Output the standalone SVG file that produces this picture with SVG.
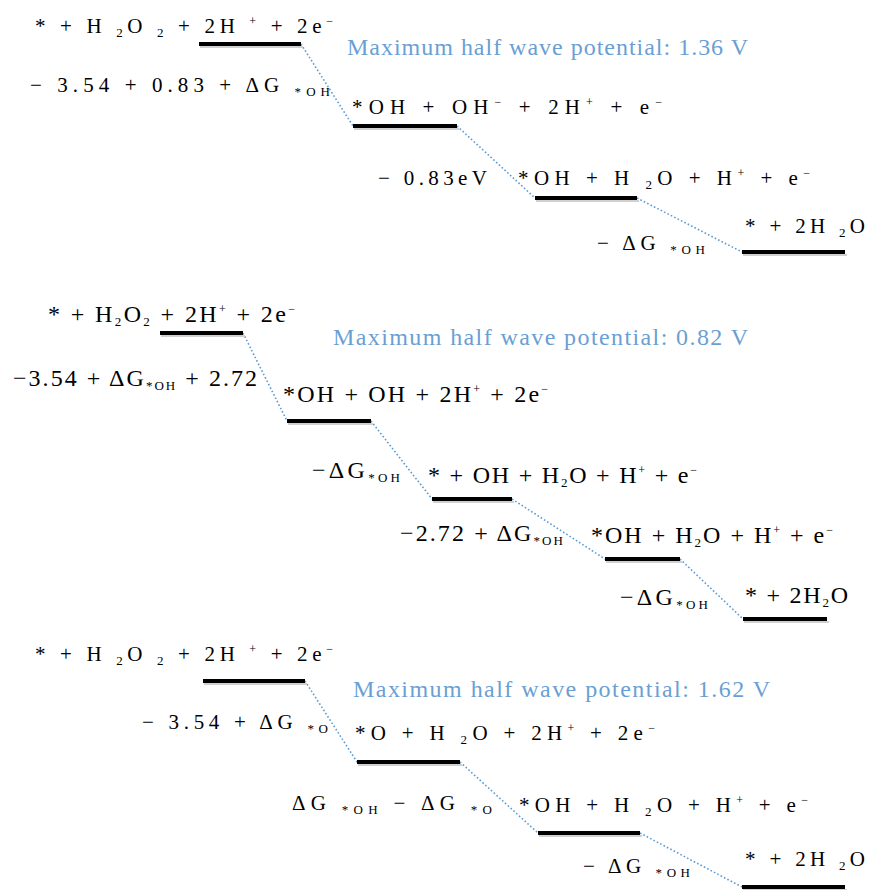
<svg xmlns="http://www.w3.org/2000/svg" width="875" height="890" viewBox="0 0 875 890">
<style>
.bg{fill:#ffffff}
.t{font-family:"Liberation Serif","Times New Roman",serif;font-size:21px;fill:#000}
.m{font-family:"Liberation Serif","Times New Roman",serif;font-size:24px;fill:#000}
.b{font-family:"Liberation Serif","Times New Roman",serif;font-size:24px;fill:#6a9fd4}
.sb{font-size:13px}
.sp{font-size:12px}
.lvl{stroke:#000;stroke-width:4;stroke-linecap:butt}
.sh{stroke:#d0d0d0;stroke-width:2}
.con{stroke:#5b9bd5;stroke-width:1.6;stroke-dasharray:1.6 2.2;fill:none}
</style>
<rect class="bg" x="0" y="0" width="875" height="890"/>

<g id="connectors">
<line class="con" x1="301" y1="44" x2="353" y2="126"/>
<line class="con" x1="457" y1="126" x2="535" y2="198"/>
<line class="con" x1="637" y1="198" x2="742" y2="252"/>
<line class="con" x1="243" y1="333" x2="287" y2="421"/>
<line class="con" x1="371" y1="421" x2="432" y2="499"/>
<line class="con" x1="512" y1="499" x2="605" y2="559"/>
<line class="con" x1="680" y1="559" x2="743" y2="619"/>
<line class="con" x1="305" y1="681" x2="357" y2="762"/>
<line class="con" x1="460" y1="762" x2="538" y2="833"/>
<line class="con" x1="640" y1="833" x2="742" y2="887"/>
</g>

<!-- Top panel -->
<g id="top-title"><text class="b" x="347" y="55" textLength="401" lengthAdjust="spacing">Maximum half wave potential: 1.36 V</text></g>
<g id="top-level1">
<line class="sh" x1="200" y1="47" x2="303" y2="47"/>
<line class="lvl" x1="199" y1="44" x2="301" y2="44"/>
<text class="t" x="35" y="33" textLength="298" lengthAdjust="spacing">* + H <tspan class="sb" dy="4">2</tspan><tspan dy="-4">O </tspan><tspan class="sb" dy="4">2</tspan><tspan dy="-4"> + 2H </tspan><tspan class="sp" dy="-8">+</tspan><tspan dy="8"> + 2e</tspan><tspan class="sp" dy="-8">−</tspan></text>
</g>
<g id="top-step1"><text class="t" x="30" y="92" textLength="300" lengthAdjust="spacing">− 3.54 + 0.83 + ΔG <tspan class="sb" dy="4">*OH</tspan></text></g>
<g id="top-level2">
<line class="sh" x1="354" y1="129" x2="459" y2="129"/>
<line class="lvl" x1="353" y1="126" x2="457" y2="126"/>
<text class="t" x="352" y="114" textLength="310" lengthAdjust="spacing">*OH + OH<tspan class="sp" dy="-8">−</tspan><tspan dy="8"> + 2H</tspan><tspan class="sp" dy="-8">+</tspan><tspan dy="8"> + e</tspan><tspan class="sp" dy="-8">−</tspan></text>
</g>
<g id="top-step2"><text class="t" x="378" y="185" textLength="109" lengthAdjust="spacing">− 0.83eV</text></g>
<g id="top-level3">
<line class="sh" x1="536" y1="201" x2="639" y2="201"/>
<line class="lvl" x1="535" y1="198" x2="637" y2="198"/>
<text class="t" x="518" y="185" textLength="292" lengthAdjust="spacing">*OH + H <tspan class="sb" dy="4">2</tspan><tspan dy="-4">O + H</tspan><tspan class="sp" dy="-8">+</tspan><tspan dy="8"> + e</tspan><tspan class="sp" dy="-8">−</tspan></text>
</g>
<g id="top-step3"><text class="t" x="597" y="250" textLength="108" lengthAdjust="spacing">− ΔG <tspan class="sb" dy="4">*OH</tspan></text></g>
<g id="top-level4">
<line class="sh" x1="743" y1="255" x2="847" y2="255"/>
<line class="lvl" x1="742" y1="252" x2="845" y2="252"/>
<text class="t" x="745" y="233" textLength="120" lengthAdjust="spacing">* + 2H <tspan class="sb" dy="4">2</tspan><tspan dy="-4">O</tspan></text>
</g>

<!-- Middle panel -->
<g id="mid-title"><text class="b" x="333" y="345" textLength="415" lengthAdjust="spacing">Maximum half wave potential: 0.82 V</text></g>
<g id="mid-level1">
<line class="sh" x1="161" y1="336" x2="245" y2="336"/>
<line class="lvl" x1="160" y1="333" x2="243" y2="333"/>
<text class="m" x="48" y="322" textLength="247" lengthAdjust="spacing">* + H<tspan class="sb" dy="4">2</tspan><tspan dy="-4">O</tspan><tspan class="sb" dy="4">2</tspan><tspan dy="-4"> + 2H</tspan><tspan class="sp" dy="-9">+</tspan><tspan dy="9"> + 2e</tspan><tspan class="sp" dy="-9">−</tspan></text>
</g>
<g id="mid-step1"><text class="m" x="13" y="386" textLength="244" lengthAdjust="spacing">−3.54 + ΔG<tspan class="sb" dy="4">*OH</tspan><tspan dy="-4"> + 2.72</tspan></text></g>
<g id="mid-level2">
<line class="sh" x1="288" y1="424" x2="373" y2="424"/>
<line class="lvl" x1="287" y1="421" x2="371" y2="421"/>
<text class="m" x="283" y="402" textLength="265" lengthAdjust="spacing">*OH + OH + 2H<tspan class="sp" dy="-9">+</tspan><tspan dy="9"> + 2e</tspan><tspan class="sp" dy="-9">−</tspan></text>
</g>
<g id="mid-step2"><text class="m" x="312" y="478" textLength="88" lengthAdjust="spacing">−ΔG<tspan class="sb" dy="4">*OH</tspan></text></g>
<g id="mid-level3">
<line class="sh" x1="433" y1="502" x2="514" y2="502"/>
<line class="lvl" x1="432" y1="499" x2="512" y2="499"/>
<text class="m" x="428" y="483" textLength="269" lengthAdjust="spacing">* + OH + H<tspan class="sb" dy="4">2</tspan><tspan dy="-4">O + H</tspan><tspan class="sp" dy="-9">+</tspan><tspan dy="9"> + e</tspan><tspan class="sp" dy="-9">−</tspan></text>
</g>
<g id="mid-step3"><text class="m" x="400" y="541" textLength="163" lengthAdjust="spacing">−2.72 + ΔG<tspan class="sb" dy="4">*OH</tspan></text></g>
<g id="mid-level4">
<line class="sh" x1="606" y1="562" x2="682" y2="562"/>
<line class="lvl" x1="605" y1="559" x2="680" y2="559"/>
<text class="m" x="591" y="543" textLength="242" lengthAdjust="spacing">*OH + H<tspan class="sb" dy="4">2</tspan><tspan dy="-4">O + H</tspan><tspan class="sp" dy="-9">+</tspan><tspan dy="9"> + e</tspan><tspan class="sp" dy="-9">−</tspan></text>
</g>
<g id="mid-step4"><text class="m" x="620" y="605" textLength="88" lengthAdjust="spacing">−ΔG<tspan class="sb" dy="4">*OH</tspan></text></g>
<g id="mid-level5">
<line class="sh" x1="744" y1="622" x2="829" y2="622"/>
<line class="lvl" x1="743" y1="619" x2="827" y2="619"/>
<text class="m" x="745" y="603" textLength="103" lengthAdjust="spacing">* + 2H<tspan class="sb" dy="4">2</tspan><tspan dy="-4">O</tspan></text>
</g>

<!-- Bottom panel -->
<g id="bot-title"><text class="b" x="353" y="697" textLength="417" lengthAdjust="spacing">Maximum half wave potential: 1.62 V</text></g>
<g id="bot-level1">
<line class="sh" x1="204" y1="684" x2="307" y2="684"/>
<line class="lvl" x1="203" y1="681" x2="305" y2="681"/>
<text class="t" x="35" y="661" textLength="298" lengthAdjust="spacing">* + H <tspan class="sb" dy="4">2</tspan><tspan dy="-4">O </tspan><tspan class="sb" dy="4">2</tspan><tspan dy="-4"> + 2H </tspan><tspan class="sp" dy="-8">+</tspan><tspan dy="8"> + 2e</tspan><tspan class="sp" dy="-8">−</tspan></text>
</g>
<g id="bot-step1"><text class="t" x="142" y="729" textLength="186" lengthAdjust="spacing">− 3.54 + ΔG <tspan class="sb" dy="4">*O</tspan></text></g>
<g id="bot-level2">
<line class="sh" x1="358" y1="765" x2="462" y2="765"/>
<line class="lvl" x1="357" y1="762" x2="460" y2="762"/>
<text class="t" x="355" y="740" textLength="300" lengthAdjust="spacing">*O + H <tspan class="sb" dy="4">2</tspan><tspan dy="-4">O + 2H</tspan><tspan class="sp" dy="-8">+</tspan><tspan dy="8"> + 2e</tspan><tspan class="sp" dy="-8">−</tspan></text>
</g>
<g id="bot-step2"><text class="t" x="292" y="810" textLength="200" lengthAdjust="spacing">ΔG <tspan class="sb" dy="4">*OH</tspan><tspan dy="-4"> − ΔG </tspan><tspan class="sb" dy="4">*O</tspan></text></g>
<g id="bot-level3">
<line class="sh" x1="539" y1="836" x2="642" y2="836"/>
<line class="lvl" x1="538" y1="833" x2="640" y2="833"/>
<text class="t" x="519" y="812" textLength="289" lengthAdjust="spacing">*OH + H <tspan class="sb" dy="4">2</tspan><tspan dy="-4">O + H</tspan><tspan class="sp" dy="-8">+</tspan><tspan dy="8"> + e</tspan><tspan class="sp" dy="-8">−</tspan></text>
</g>
<g id="bot-step3"><text class="t" x="583" y="873" textLength="107" lengthAdjust="spacing">− ΔG <tspan class="sb" dy="4">*OH</tspan></text></g>
<g id="bot-level4">
<line class="sh" x1="743" y1="890" x2="847" y2="890"/>
<line class="lvl" x1="742" y1="887" x2="845" y2="887"/>
<text class="t" x="745" y="866" textLength="120" lengthAdjust="spacing">* + 2H <tspan class="sb" dy="4">2</tspan><tspan dy="-4">O</tspan></text>
</g>
</svg>
